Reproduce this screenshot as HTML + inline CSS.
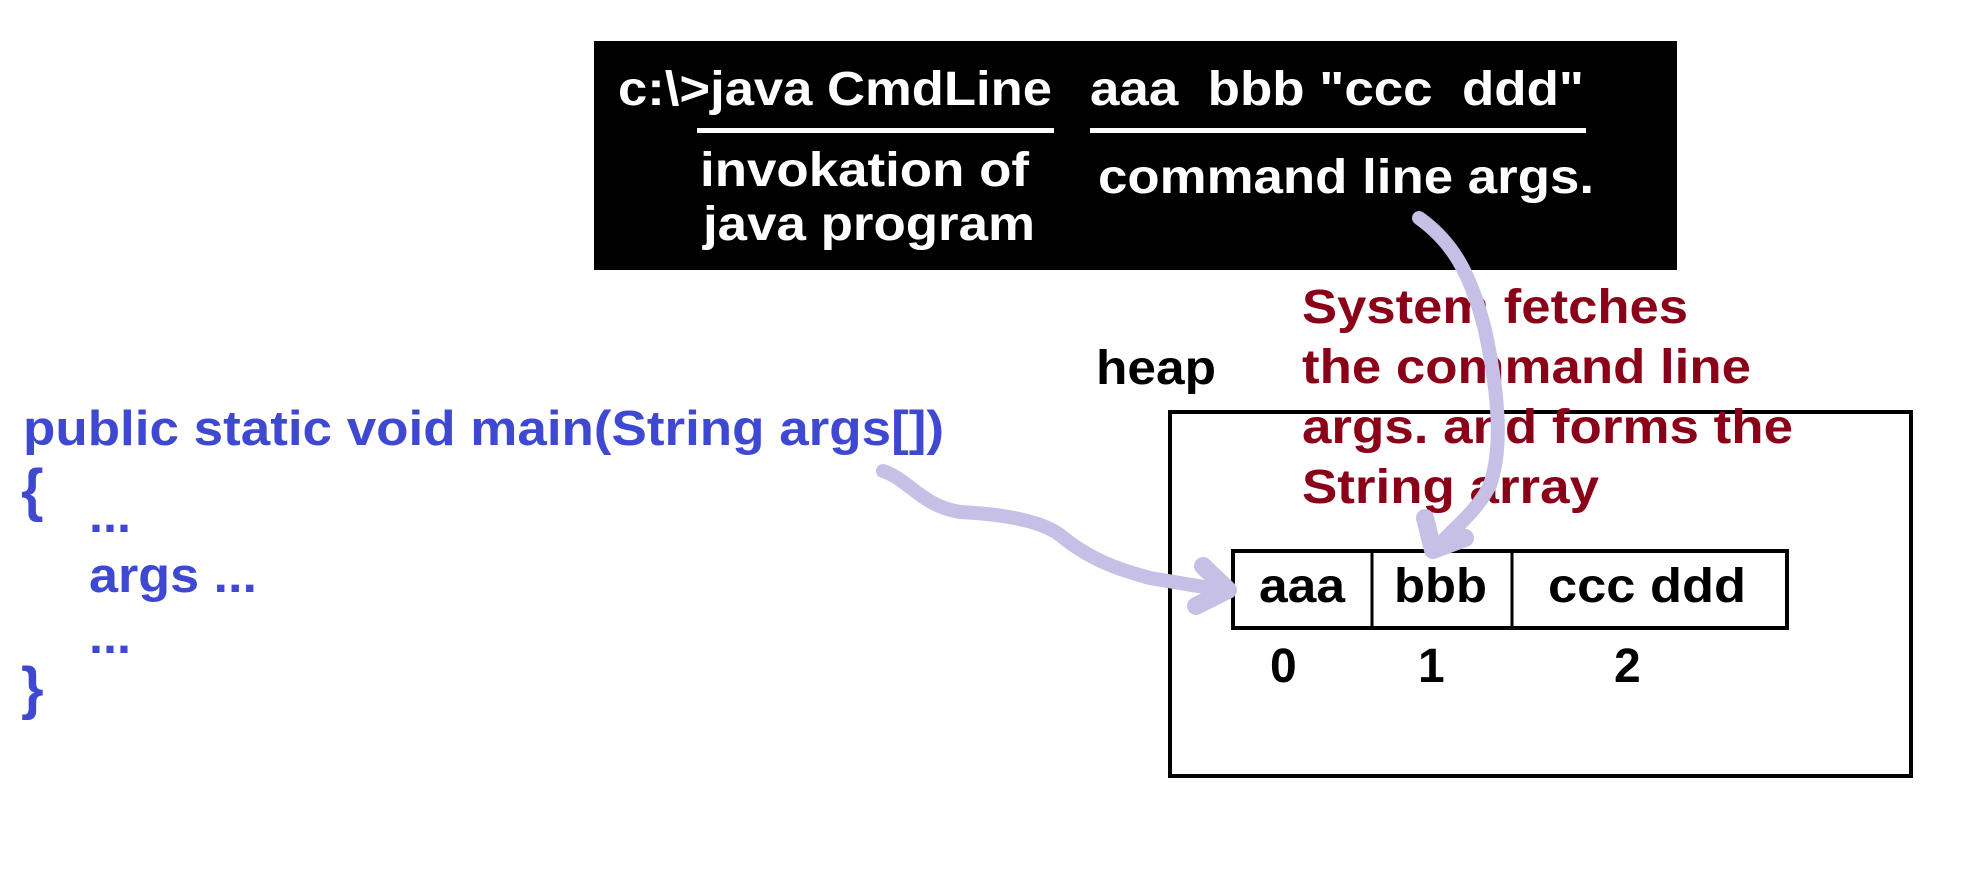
<!DOCTYPE html>
<html><head><meta charset="utf-8"><style>
html,body{margin:0;padding:0;background:#fff;width:1976px;height:872px;overflow:hidden}
svg{display:block}
text{font-family:"Liberation Sans",Arial,sans-serif;font-weight:bold}
</style></head><body>
<svg width="1976" height="872" viewBox="0 0 1976 872" xmlns="http://www.w3.org/2000/svg">
<rect x="594" y="41" width="1083" height="229" fill="#000"/>
<g fill="#fff" font-size="48">
<text x="618" y="105" textLength="434" lengthAdjust="spacingAndGlyphs">c:\&gt;java CmdLine</text>
<text x="1090" y="105" textLength="494" lengthAdjust="spacingAndGlyphs" xml:space="preserve">aaa  bbb "ccc  ddd"</text>
<text x="700" y="186" textLength="329" lengthAdjust="spacingAndGlyphs">invokation of</text>
<text x="703" y="240" textLength="332" lengthAdjust="spacingAndGlyphs">java program</text>
<text x="1098" y="193" textLength="496" lengthAdjust="spacingAndGlyphs">command line args.</text>
</g>
<rect x="697" y="128" width="357" height="5" fill="#fff"/>
<rect x="1090" y="128" width="496" height="5" fill="#fff"/>

<g fill="#3f48d0" font-size="49">
<text x="23" y="445" textLength="921" lengthAdjust="spacingAndGlyphs">public static void main(String args[])</text>
<text x="21" y="510" font-size="58">{</text>
<text x="89" y="532" textLength="42" lengthAdjust="spacingAndGlyphs">...</text>
<text x="89" y="592" textLength="168" lengthAdjust="spacingAndGlyphs">args ...</text>
<text x="89" y="653" textLength="42" lengthAdjust="spacingAndGlyphs">...</text>
<text x="21" y="708" font-size="58">}</text>
</g>

<text x="1096" y="384" font-size="48" fill="#000" textLength="120" lengthAdjust="spacingAndGlyphs">heap</text>
<rect x="1170" y="412" width="741" height="364" fill="none" stroke="#000" stroke-width="4"/>
<rect x="1233" y="551" width="554" height="77" fill="none" stroke="#000" stroke-width="4"/>
<line x1="1372" y1="551" x2="1372" y2="628" stroke="#000" stroke-width="3"/>
<line x1="1512" y1="551" x2="1512" y2="628" stroke="#000" stroke-width="3"/>
<g fill="#000" font-size="48">
<text x="1259" y="602" textLength="86" lengthAdjust="spacingAndGlyphs">aaa</text>
<text x="1394" y="602" textLength="93" lengthAdjust="spacingAndGlyphs">bbb</text>
<text x="1548" y="602" textLength="198" lengthAdjust="spacingAndGlyphs">ccc ddd</text>
<text x="1270" y="682">0</text>
<text x="1418" y="682">1</text>
<text x="1614" y="682">2</text>
</g>

<g fill="#8b0019" font-size="48">
<text x="1302" y="323" textLength="386" lengthAdjust="spacingAndGlyphs">System fetches</text>
<text x="1302" y="383" textLength="449" lengthAdjust="spacingAndGlyphs">the command line</text>
<text x="1302" y="443" textLength="491" lengthAdjust="spacingAndGlyphs">args. and forms the</text>
<text x="1302" y="503" textLength="297" lengthAdjust="spacingAndGlyphs">String array</text>
</g>

<g stroke="#c6bfe6" stroke-width="14" fill="none" stroke-linecap="round" stroke-linejoin="round">
<path d="M883 471 C910 480 920 505 960 512 C1000 514 1040 520 1060 535 C1090 560 1120 570 1150 578 L1222 590"/>
<path d="M1203 566 L1228 590 L1196 606" stroke-width="18"/>
<path d="M1419 218 C1450 240 1470 270 1485 330 C1500 400 1502 450 1490 485 C1475 515 1450 530 1435 550"/>
<path d="M1425 518 L1433 550 L1465 538" stroke-width="18"/>
</g>
</svg>
</body></html>
